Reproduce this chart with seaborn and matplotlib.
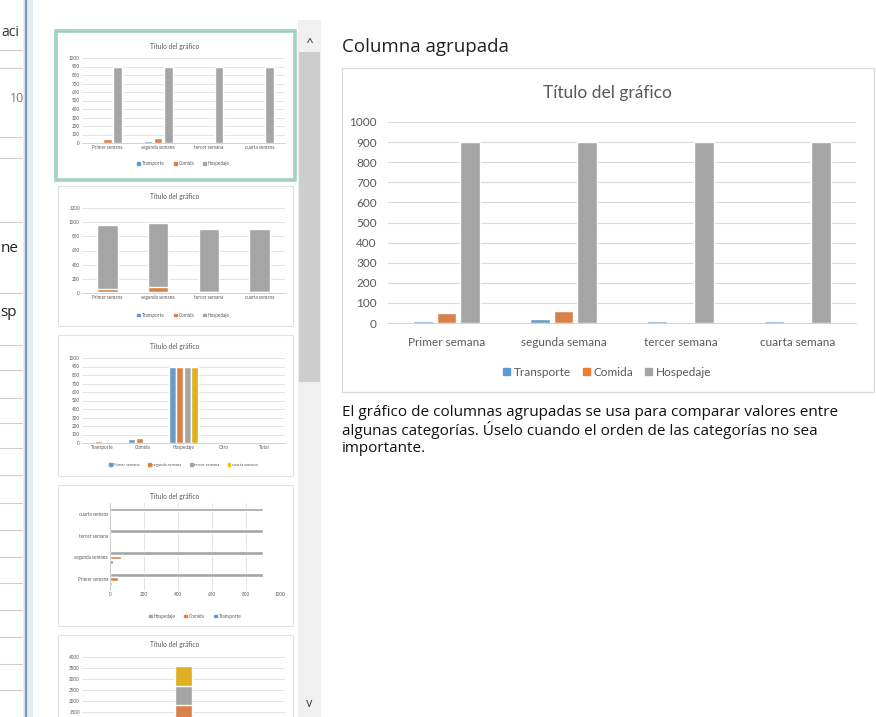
# Excel "Insertar gráfico" dialog: clustered column chart with its thumbnails
import matplotlib
matplotlib.use("Agg")
import matplotlib.pyplot as plt
from matplotlib.patches import Rectangle, Patch
from matplotlib.lines import Line2D
import seaborn as sns
import pandas as pd
import numpy as np

# data
semanas = ["Primer semana", "segunda semana", "tercer semana", "cuarta semana"]
series = ["Transporte", "Comida", "Hospedaje"]
transporte = [10, 20, 8, 8]
comida = [48, 62, 0, 0]
hospedaje = [900, 900, 900, 900]
gastos = ["Transporte", "Comida", "Hospedaje", "Otro", "Total"]
otro = [0, 0, 0, 0]
total = [0, 0, 0, 0]

azul, naranja, gris, amarillo = "#5B9BD5", "#ED7D31", "#A5A5A5", "#FFC000"
colores_series = [azul, naranja, gris]
colores_semanas = [azul, naranja, gris, amarillo]

W, H = 876, 717
sns.set_style("white")
plt.rcParams["font.family"] = ["Lato", "DejaVu Sans"]

fig = plt.figure(figsize=(W / 100, H / 100), dpi=100)
fig.patch.set_facecolor("white")


def box(x0, y0, x1, y1):
    return [x0 / W, 1 - y1 / H, (x1 - x0) / W, (y1 - y0) / H]


def rect(x0, y0, x1, y1, **kw):
    fig.add_artist(Rectangle((x0 / W, 1 - y1 / H), (x1 - x0) / W, (y1 - y0) / H,
                             transform=fig.transFigure, **kw))


def ftext(x, y, s, **kw):
    fig.text(x / W, 1 - y / H, s, **kw)


def hline(x0, x1, y, **kw):
    fig.add_artist(Line2D([x0 / W, x1 / W], [1 - y / H, 1 - y / H], transform=fig.transFigure, **kw))


def vline(x, y0, y1, **kw):
    fig.add_artist(Line2D([x / W, x / W], [1 - y0 / H, 1 - y1 / H], transform=fig.transFigure, **kw))


# long-form tables
df_sem = pd.DataFrame({
    "semana": np.repeat(semanas, 3),
    "serie": series * 4,
    "valor": [v for fila in zip(transporte, comida, hospedaje) for v in fila],
})
por_gasto = {"Transporte": transporte, "Comida": comida, "Hospedaje": hospedaje,
             "Otro": otro, "Total": total}
df_gas = pd.DataFrame([(g, semanas[i], por_gasto[g][i]) for g in gastos for i in range(4)],
                      columns=["gasto", "semana", "valor"])


def style_axes(ax, fs, grid_axis="y", pad=2):
    ax.set_xlabel("")
    ax.set_ylabel("")
    for s in ["top", "right", "left", "bottom"]:
        ax.spines[s].set_visible(False)
    if grid_axis == "y":
        ax.spines["bottom"].set_visible(True)
        ax.spines["bottom"].set_color("#BFBFBF")
        ax.spines["bottom"].set_linewidth(0.5)
    else:
        ax.spines["left"].set_visible(True)
        ax.spines["left"].set_color("#BFBFBF")
        ax.spines["left"].set_linewidth(0.5)
    getattr(ax, grid_axis + "axis").grid(True, color="#D9D9D9", lw=0.5)
    ax.set_axisbelow(True)
    ax.tick_params(length=0, colors="#595959", labelsize=fs, pad=pad)
    ax.set_facecolor("white")


def mini_legend(ax, labels, colors, y, fs=3.3):
    handles = [Patch(color=c, label=l) for l, c in zip(labels, colors)]
    ax.legend(handles=handles, loc="center", bbox_to_anchor=(0.5, y), ncol=len(labels),
              frameon=False, fontsize=fs, handlelength=0.6, handleheight=0.6,
              handletextpad=0.4, columnspacing=2.0, labelcolor="#595959")


# ---------------- left spreadsheet strip ----------------
for yy in [50, 68, 137, 158, 222, 293, 345, 370, 398, 423, 448, 475, 503, 530, 557, 583, 610, 637, 664, 690]:
    hline(0, 22, yy, color="#CFCFCF", lw=0.8)
rect(23, 0, 33, 717, facecolor="#E4EEF5", edgecolor="none")
vline(25.5, 0, 717, color="#7A9BB5", lw=1.6)
ftext(1, 32, "aci", fontsize=10, color="#333333", va="center", family=["Open Sans", "DejaVu Sans"])
ftext(10, 98, "10", fontsize=9, color="#777777", va="center", family=["Open Sans", "DejaVu Sans"])
ftext(1, 248, "ne", fontsize=11, color="#222222", va="center", family=["Open Sans", "DejaVu Sans"])
ftext(0, 312, "sp", fontsize=11, color="#222222", va="center", family=["Open Sans", "DejaVu Sans"])

# ---------------- thumbnail frames ----------------
rect(56, 31, 295, 180, fill=False, edgecolor="#A3D3BC", lw=2.6)
for (y0, y1) in [(186, 326), (335, 476), (485, 626), (635, 740)]:
    rect(58, y0, 293, y1, fill=False, edgecolor="#E1E1E1", lw=0.8)

# scrollbar
rect(298, 20, 321, 717, facecolor="#F0F0F0", edgecolor="none")
rect(299, 52, 320, 382, facecolor="#CDCDCD", edgecolor="none")
ftext(309.5, 44, "^", fontsize=10, ha="center", va="center", color="#444444")
ftext(309.5, 703, "v", fontsize=9, ha="center", va="center", color="#444444")

mfs = 3.3
tfs = 4.8

# thumb 1: clustered columns
ax1 = fig.add_axes(box(82, 58, 285, 143))
sns.barplot(data=df_sem, x="semana", y="valor", hue="serie", palette=colores_series,
            width=0.6, gap=0.15, legend=False, ax=ax1)
ax1.set_ylim(0, 1000)
ax1.set_yticks(range(0, 1001, 100))
style_axes(ax1, mfs, pad=1.5)
mini_legend(ax1, series, colores_series, -0.24)
ftext(175, 47, "Título del gráfico", fontsize=tfs, ha="center", va="center", color="#595959")

# thumb 2: stacked columns (cumulative bars drawn back to front)
ax2 = fig.add_axes(box(82, 208, 285, 293))
acum = np.cumsum([transporte, comida, hospedaje], axis=0)
for k in [2, 1, 0]:
    sns.barplot(x=semanas, y=acum[k], color=colores_series[k], width=0.4, ax=ax2)
ax2.set_ylim(0, 1200)
ax2.set_yticks(range(0, 1201, 200))
style_axes(ax2, mfs, pad=1.5)
mini_legend(ax2, series, colores_series, -0.26)
ftext(175, 197, "Título del gráfico", fontsize=tfs, ha="center", va="center", color="#595959")

# thumb 3: clustered by expense, weeks as series
ax3 = fig.add_axes(box(82, 358, 285, 443))
sns.barplot(data=df_gas, x="gasto", y="valor", hue="semana", palette=colores_semanas,
            width=0.75, gap=0.1, legend=False, ax=ax3)
ax3.set_ylim(0, 1000)
ax3.set_yticks(range(0, 1001, 100))
style_axes(ax3, mfs, pad=1.5)
mini_legend(ax3, semanas, colores_semanas, -0.26, fs=3.0)
ftext(175, 347, "Título del gráfico", fontsize=tfs, ha="center", va="center", color="#595959")

# thumb 4: clustered horizontal bars
ax4 = fig.add_axes(box(110, 503, 280, 590))
sns.barplot(data=df_sem, y="semana", x="valor", hue="serie", orient="y",
            order=semanas[::-1], hue_order=series[::-1], palette=colores_series[::-1],
            width=0.6, gap=0.15, legend=False, ax=ax4)
ax4.set_xlim(0, 1000)
ax4.set_xticks(range(0, 1001, 200))
style_axes(ax4, mfs, grid_axis="x", pad=1.5)
mini_legend(ax4, series[::-1], colores_series[::-1], -0.3)
ftext(175, 497, "Título del gráfico", fontsize=tfs, ha="center", va="center", color="#595959")

# thumb 5: stacked by expense (cut off by the window)
ax5 = fig.add_axes(box(82, 657, 285, 745))
acum_g = np.cumsum(np.array([por_gasto[g] for g in gastos]).T, axis=0)
for k in [3, 2, 1, 0]:
    sns.barplot(x=gastos, y=acum_g[k], color=colores_semanas[k], width=0.4, ax=ax5)
ax5.set_ylim(0, 4000)
ticks5 = list(range(0, 4001, 500))
ax5.set_yticks(ticks5)
ax5.set_yticklabels([str(t) if t >= 1500 else "" for t in ticks5])
style_axes(ax5, mfs, pad=1.5)
ax5.set_xticklabels([])
ftext(175, 645, "Título del gráfico", fontsize=tfs, ha="center", va="center", color="#595959")

# ---------------- main preview ----------------
ftext(342, 47, "Columna agrupada", fontsize=13.5, va="center", color="#222222",
      family=["Open Sans", "DejaVu Sans"])
rect(342, 68, 874, 392, fill=False, edgecolor="#D9D9D9", lw=0.9)

ax = fig.add_axes(box(388, 122, 856, 323))
sns.barplot(data=df_sem, x="semana", y="valor", hue="serie", palette=colores_series,
            width=0.6, gap=0.15, legend=False, ax=ax)
ax.set_ylim(0, 1000)
ax.set_yticks(range(0, 1001, 100))
style_axes(ax, 8.5, pad=8)
ax.yaxis.grid(True, color="#D9D9D9", lw=0.8)
ax.tick_params(axis="x", pad=10)
ftext(607, 93, "Título del gráfico", fontsize=12.5, ha="center", va="center", color="#595959")
handles = [Patch(color=c, label=l) for l, c in zip(series, colores_series)]
fig.legend(handles=handles, loc="center", bbox_to_anchor=(607 / W, 1 - 372 / H), ncol=3,
           frameon=False, fontsize=8.5, handlelength=0.6, handleheight=0.6,
           handletextpad=0.3, columnspacing=1.0, labelcolor="#595959")

desc = ("El gráfico de columnas agrupadas se usa para comparar valores entre\n"
        "algunas categorías. Úselo cuando el orden de las categorías no sea\n"
        "importante.")
ftext(342, 405, desc, fontsize=11, va="top", color="#111111", linespacing=1.1,
      family=["Open Sans", "DejaVu Sans"])

fig.savefig("out.png", dpi=100, facecolor="white")
